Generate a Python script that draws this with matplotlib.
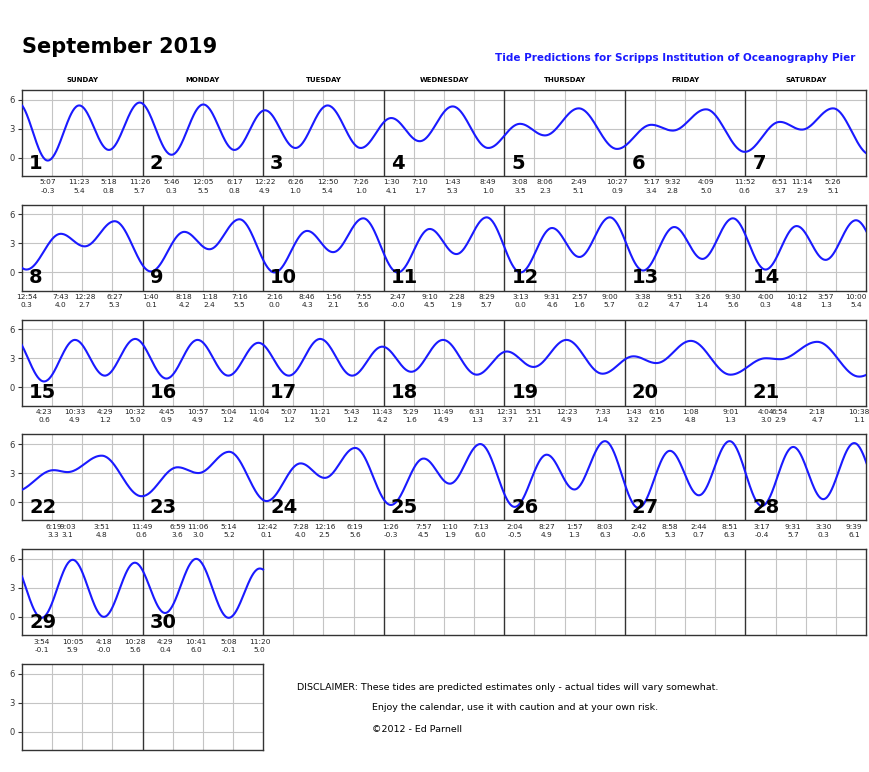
import numpy as np
import matplotlib
matplotlib.use("Agg")
import matplotlib.pyplot as plt
import matplotlib.transforms as mtransforms

# =========================
# Data: tide extremes, September 2019 (24h clock, feet)
# =========================
tide_day = [1, 1, 1, 1,
            2, 2, 2,
            3, 3, 3, 3,
            4, 4, 4, 4,
            5, 5, 5, 5,
            6, 6, 6, 6,
            7, 7, 7,
            8, 8, 8, 8,
            9, 9, 9, 9,
            10, 10, 10, 10,
            11, 11, 11, 11,
            12, 12, 12, 12,
            13, 13, 13, 13,
            14, 14, 14, 14,
            15, 15, 15, 15,
            16, 16, 16, 16,
            17, 17, 17, 17,
            18, 18, 18,
            19, 19, 19, 19,
            20, 20, 20, 20,
            21, 21, 21, 21,
            22, 22, 22, 22,
            23, 23, 23,
            24, 24, 24, 24,
            25, 25, 25, 25,
            26, 26, 26, 26,
            27, 27, 27, 27,
            28, 28, 28, 28,
            29, 29, 29, 29,
            30, 30, 30, 30]

tide_time = ["05:07", "11:23", "17:18", "23:26",
             "05:46", "12:05", "18:17",
             "00:22", "06:26", "12:50", "19:26",
             "01:30", "07:10", "13:43", "20:49",
             "03:08", "08:06", "14:49", "22:27",
             "05:17", "09:32", "16:09", "23:52",
             "06:51", "11:14", "17:26",
             "00:54", "07:43", "12:28", "18:27",
             "01:40", "08:18", "13:18", "19:16",
             "02:16", "08:46", "13:56", "19:55",
             "02:47", "09:10", "14:28", "20:29",
             "03:13", "09:31", "14:57", "21:00",
             "03:38", "09:51", "15:26", "21:30",
             "04:00", "10:12", "15:57", "22:00",
             "04:23", "10:33", "16:29", "22:32",
             "04:45", "10:57", "17:04", "23:04",
             "05:07", "11:21", "17:43", "23:43",
             "05:29", "11:49", "18:31",
             "00:31", "05:51", "12:23", "19:33",
             "01:43", "06:16", "13:08", "21:01",
             "04:04", "06:54", "14:18", "22:38",
             "06:19", "09:03", "15:51", "23:49",
             "06:59", "11:06", "17:14",
             "00:42", "07:28", "12:16", "18:19",
             "01:26", "07:57", "13:10", "19:13",
             "02:04", "08:27", "13:57", "20:03",
             "02:42", "08:58", "14:44", "20:51",
             "03:17", "09:31", "15:30", "21:39",
             "03:54", "10:05", "16:18", "22:28",
             "04:29", "10:41", "17:08", "23:20"]

tide_height = [-0.3, 5.4, 0.8, 5.7,
               0.3, 5.5, 0.8,
               4.9, 1.0, 5.4, 1.0,
               4.1, 1.7, 5.3, 1.0,
               3.5, 2.3, 5.1, 0.9,
               3.4, 2.8, 5.0, 0.6,
               3.7, 2.9, 5.1,
               0.3, 4.0, 2.7, 5.3,
               0.1, 4.2, 2.4, 5.5,
               0.0, 4.3, 2.1, 5.6,
               -0.0, 4.5, 1.9, 5.7,
               0.0, 4.6, 1.6, 5.7,
               0.2, 4.7, 1.4, 5.6,
               0.3, 4.8, 1.3, 5.4,
               0.6, 4.9, 1.2, 5.0,
               0.9, 4.9, 1.2, 4.6,
               1.2, 5.0, 1.2, 4.2,
               1.6, 4.9, 1.3,
               3.7, 2.1, 4.9, 1.4,
               3.2, 2.5, 4.8, 1.3,
               3.0, 2.9, 4.7, 1.1,
               3.3, 3.1, 4.8, 0.6,
               3.6, 3.0, 5.2,
               0.1, 4.0, 2.5, 5.6,
               -0.3, 4.5, 1.9, 6.0,
               -0.5, 4.9, 1.3, 6.3,
               -0.6, 5.3, 0.7, 6.3,
               -0.4, 5.7, 0.3, 6.1,
               -0.1, 5.9, -0.0, 5.6,
               0.4, 6.0, -0.1, 5.0]

# extremes just outside the month (estimated from the curve ends)
prev_extreme = (0, "23:10", 5.7)    # Aug 31
next_extreme = (31, "05:50", 0.6)   # Oct 1

day_names = ["SUNDAY", "MONDAY", "TUESDAY", "WEDNESDAY",
             "THURSDAY", "FRIDAY", "SATURDAY"]
n_days = 30
y_ticks = [0, 3, 6]

# =========================
# Helpers
# =========================
def to_hours(day, hhmm):
    h, m = hhmm.split(":")
    return (day - 1) * 24 + int(h) + int(m) / 60.0


def label_12h(hhmm):
    h, m = hhmm.split(":")
    h = int(h) % 12
    if h == 0:
        h = 12
    return f"{h}:{m}"


# tide curve: cosine shape between consecutive extremes
ext_t = [to_hours(prev_extreme[0], prev_extreme[1])]
ext_h = [prev_extreme[2]]
for d, tt, hh in zip(tide_day, tide_time, tide_height):
    ext_t.append(to_hours(d, tt))
    ext_h.append(hh)
ext_t.append(to_hours(next_extreme[0], next_extreme[1]))
ext_h.append(next_extreme[2])

curve_t, curve_h = [], []
for i in range(len(ext_t) - 1):
    s = np.linspace(0, 1, 40, endpoint=False)
    curve_t.append(ext_t[i] + s * (ext_t[i + 1] - ext_t[i]))
    curve_h.append(ext_h[i] + (ext_h[i + 1] - ext_h[i]) * (1 - np.cos(np.pi * s)) / 2)
curve_t = np.concatenate(curve_t)
curve_h = np.concatenate(curve_h)
keep = (curve_t >= 0) & (curve_t <= n_days * 24)
curve_t = curve_t[keep]
curve_h = curve_h[keep]

# =========================
# Figure layout (pixels)
# =========================
W, H = 870, 772
fig = plt.figure(figsize=(W / 100, H / 100), dpi=100)
fig.patch.set_facecolor("white")

left_px, width_px = 22, 844
row_top0, row_step, row_h = 90, 114.8, 86
grid_col = "#c4c4c4"
edge_col = "#333333"


def make_row(r, ndays):
    top = row_top0 + r * row_step
    ax = fig.add_axes([left_px / W, 1 - (top + row_h) / H,
                       width_px * ndays / 7 / W, row_h / H])
    ax.set_xlim(0, ndays * 24)
    ax.set_ylim(-1.9, 7.0)
    ax.set_xticks([])
    ax.set_yticks(y_ticks)
    ax.tick_params(axis="y", labelsize=6, length=3, width=0.8,
                   colors=edge_col, pad=2)
    for sp in ax.spines.values():
        sp.set_color(edge_col)
        sp.set_linewidth(1.0)
    for y in y_ticks:
        ax.axhline(y, color=grid_col, lw=0.8, zorder=0)
    for x in range(6, ndays * 24, 6):
        if x % 24 == 0:
            ax.axvline(x, color=edge_col, lw=1.0, zorder=1)
        else:
            ax.axvline(x, color=grid_col, lw=0.8, zorder=0)
    return ax


rows = [make_row(r, 7) for r in range(5)]
make_row(5, 2)

# =========================
# Curves, day numbers, extreme labels
# =========================
for r, ax in enumerate(rows):
    ax.plot(curve_t - r * 168, curve_h, color="#1a1aff", lw=1.5,
            zorder=3, clip_on=True)
    trans = mtransforms.blended_transform_factory(ax.transData, ax.transAxes)
    for c in range(7):
        day = r * 7 + c + 1
        if day <= n_days:
            ax.text(c * 24 + 1.4, 0.04, str(day), transform=trans,
                    fontsize=14, fontweight="bold", color="black",
                    ha="left", va="bottom", zorder=4)

for d, tt, hh in zip(tide_day, tide_time, tide_height):
    t = to_hours(d, tt)
    r = int(t // 168)
    ax = rows[r]
    trans = mtransforms.blended_transform_factory(ax.transData, ax.transAxes)
    x = t - r * 168
    ax.text(x, -0.075, label_12h(tt), transform=trans, fontsize=5.3,
            color="#222222", ha="center", va="center", clip_on=False)
    ax.text(x, -0.17, f"{hh:.1f}", transform=trans, fontsize=5.3,
            color="#222222", ha="center", va="center", clip_on=False)

# =========================
# Titles and text
# =========================
fig.text(22 / W, 1 - 47 / H, "September 2019", fontsize=15,
         fontweight="bold", ha="left", va="center")
fig.text(855 / W, 1 - 58 / H,
         "Tide Predictions for Scripps Institution of Oceanography Pier",
         fontsize=7.5, fontweight="bold", color="#1a1aff",
         ha="right", va="center")
for c, name in enumerate(day_names):
    xc = left_px + width_px / 7 * (c + 0.5)
    fig.text(xc / W, 1 - 80 / H, name, fontsize=5, fontweight="bold",
             ha="center", va="center")

fig.text(297 / W, 1 - 687 / H,
         "DISCLAIMER: These tides are predicted estimates only - actual tides will vary somewhat.",
         fontsize=6.8, ha="left", va="center")
fig.text(372 / W, 1 - 708 / H,
         "Enjoy the calendar, use it with caution and at your own risk.",
         fontsize=6.8, ha="left", va="center")
fig.text(372 / W, 1 - 729 / H, "\u00a92012 - Ed Parnell",
         fontsize=6.8, ha="left", va="center")

fig.savefig("out.png", dpi=100)
